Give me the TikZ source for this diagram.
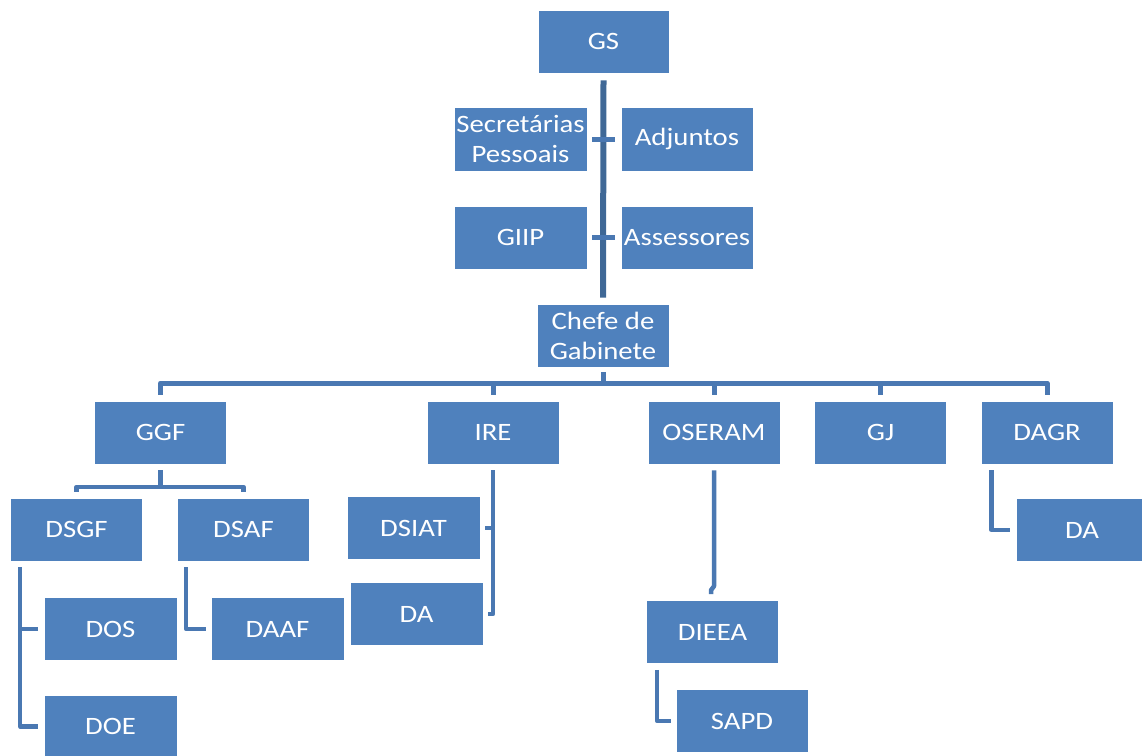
\documentclass[tikz,border=0pt]{standalone}
\usepackage{fontspec}
\newfontfamily\boxfont{Carlito}[FakeStretch=1.15]
\definecolor{boxblue}{HTML}{4F81BD}
\definecolor{linkblue}{HTML}{4A78B2}
\definecolor{trunkblue}{HTML}{3F6896}
\begin{document}
\begin{tikzpicture}[x=1pt,y=-1pt,
  orgbox/.style={fill=boxblue, draw=white, line width=0.6pt, text=white,
    font=\boxfont\fontsize{25}{30}\selectfont, align=center, inner sep=0pt,
    minimum width=132pt, minimum height=63pt},
  trunk/.style={draw=trunkblue, line width=6pt},
  link/.style={draw=linkblue, line width=5pt, line join=round},
  linktwo/.style={draw=linkblue, line width=4.5pt, line join=round}]
\useasboundingbox (0,0) rectangle (1142,755);
\clip (0,0) rectangle (1142,755);

\node[orgbox, minimum width=131pt] (gs) at (603.5,41.5) {GS};
\node[orgbox, minimum width=133pt, minimum height=64pt] (sec) at (520.5,139) {Secretárias\\Pessoais};
\node[orgbox, minimum height=64pt] (adj) at (687,139) {Adjuntos};
\node[orgbox, minimum width=133pt] (giip) at (520.5,237.5) {GIIP};
\node[orgbox] (ass) at (687,237.5) {Assessores};
\node[orgbox] (chefe) at (603,335.5) {Chefe de\\Gabinete};
\node[orgbox] (ggf) at (160.5,432.5) {GGF};
\node[orgbox] (ire) at (493,432.5) {IRE};
\node[orgbox] (oseram) at (714,432.5) {OSERAM};
\node[orgbox] (gj) at (880.5,432.5) {GJ};
\node[orgbox] (dagr) at (1047,432.5) {DAGR};
\node[orgbox] (dsgf) at (76.5,529.5) {DSGF};
\node[orgbox] (dsaf) at (243.5,529.5) {DSAF};
\node[orgbox, minimum width=133pt] (dos) at (110.5,629) {DOS};
\node[orgbox, minimum width=133pt] (doe) at (110.5,726.5) {DOE};
\node[orgbox, minimum width=133pt] (daaf) at (277.5,629) {DAAF};
\node[orgbox, minimum width=133pt] (dsiat) at (413.5,528) {DSIAT};
\node[orgbox, minimum width=133pt] (da1) at (416.5,614) {DA};
\node[orgbox] (dieea) at (712.5,632) {DIEEA};
\node[orgbox] (sapd) at (742,721) {SAPD};
\node[orgbox] (da2) at (1082,530) {DA};

\coordinate (bar) at (603,383);
\coordinate (subbar) at (160,487);

% top trunk
\draw[trunk] ([yshift=-7pt]gs.south) -- ([yshift=6pt]chefe.north);
\draw[link] ([xshift=5pt]sec.east) -- ([xshift=-6pt]adj.west);
\draw[link] ([xshift=5pt]giip.east) -- ([xshift=-6pt]ass.west);

% main bar
\draw[link] ([yshift=-5pt]chefe.south) -- (chefe.south |- bar);
\draw[link] ([yshift=6pt]ggf.north) -- (ggf.north |- bar) -- (dagr.north |- bar) -- ([yshift=6pt]dagr.north);
\foreach \n in {ire,oseram,gj} \draw[link] (\n.north |- bar) -- ([yshift=6pt]\n.north);

% GGF branch
\draw[linktwo] ([yshift=-6pt]ggf.south) -- (ggf.south |- subbar);
\draw[linktwo] ([yshift=6pt]dsgf.north) -- (dsgf.north |- subbar) -- (dsaf.north |- subbar) -- ([yshift=6pt]dsaf.north);

% DSGF
\coordinate (dsgfx) at ([xshift=10pt]dsgf.south west);
\draw[linktwo] ([yshift=-6pt]dsgfx) -- (dsgfx |- doe.west) -- ([xshift=-6pt]doe.west);
\draw[linktwo] (dsgfx |- dos.west) -- ([xshift=-6pt]dos.west);

% DSAF
\coordinate (dsafx) at ([xshift=9pt]dsaf.south west);
\draw[linktwo] ([yshift=-6pt]dsafx) -- (dsafx |- daaf.west) -- ([xshift=-5pt]daaf.west);

% IRE
\draw[linktwo] ([yshift=-6pt]ire.south) -- (ire.south |- da1.east) -- ([xshift=5pt]da1.east);
\draw[linktwo] ([xshift=5pt]dsiat.east) -- (ire.south |- dsiat.east);

% OSERAM
\draw[linktwo] ([yshift=-6pt]oseram.south) -- ([yshift=14pt]oseram.south |- dieea.north)
  -- ([xshift=-1.5pt,yshift=10pt]dieea.north) -- ([xshift=-1.5pt,yshift=6pt]dieea.north);

% DIEEA
\coordinate (dieeax) at ([xshift=11pt]dieea.south west);
\draw[linktwo] ([yshift=-6pt]dieeax) -- (dieeax |- sapd.west) -- ([xshift=-5pt]sapd.west);

% DAGR
\coordinate (dagrx) at ([xshift=11pt]dagr.south west);
\draw[linktwo] ([yshift=-6pt]dagrx) -- (dagrx |- da2.west) -- ([xshift=-6pt]da2.west);
\end{tikzpicture}
\end{document}
